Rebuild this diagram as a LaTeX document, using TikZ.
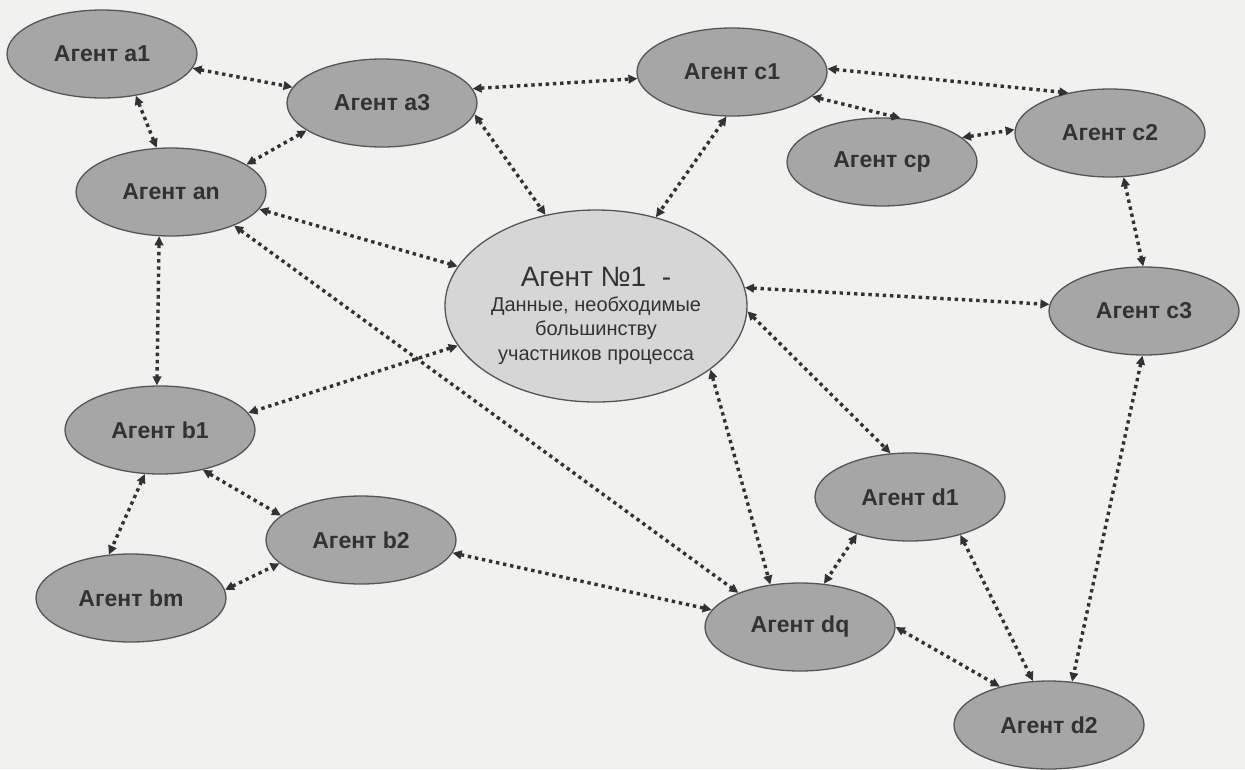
\documentclass[tikz,border=0pt]{standalone}
\usepackage{fontspec}
\setmainfont{Liberation Sans}
\usetikzlibrary{arrows.meta,shapes.geometric}

\definecolor{paper}{RGB}{241,241,240}
\definecolor{agentfill}{RGB}{166,166,166}
\definecolor{corefill}{RGB}{214,214,214}
\definecolor{rim}{RGB}{85,85,85}
\definecolor{ink}{RGB}{50,50,50}

\begin{document}
\begin{tikzpicture}[x=1pt, y=-1pt,
  agent/.style={ellipse, draw=rim, fill=agentfill, line width=1.3pt,
    minimum width=190pt, minimum height=88pt, inner sep=0pt,
    text=ink, font=\fontsize{23}{26}\selectfont\bfseries},
  core/.style={ellipse, draw=rim, fill=corefill, line width=1.3pt,
    minimum width=302pt, minimum height=192pt, inner sep=0pt},
  link/.style={ink, line width=3.4pt, dash pattern=on 3.4pt off 3.8pt,
    {Triangle[length=9pt,width=8.5pt]}-{Triangle[length=9pt,width=8.5pt]}}]

  % ── Sheet ──────────────────────────────────────────────────────────
  \fill[paper] (0,0) rectangle (1245,769);
  \useasboundingbox (0,0) rectangle (1245,769);

  % ── Central agent ──────────────────────────────────────────────────
  \node[core] (main) at (596,306) {};
  \node[align=center, text=ink, font=\fontsize{20}{24.5}\selectfont]
    (maintext) at ([yshift=-10pt]main.center)
    {{\fontsize{28}{27}\selectfont Агент №1\ \ -}\\Данные, необходимые\\большинству\\участников процесса};

  % ── Group a ────────────────────────────────────────────────────────
  \node[agent] (a1) at (102,54)  {Агент a1};
  \node[agent] (a3) at (382,103) {Агент a3};
  \node[agent] (an) at (171,192) {Агент an};

  % ── Group c ────────────────────────────────────────────────────────
  \node[agent] (c1) at (732,72)   {Агент c1};
  \node[agent] (cp) at (882,162)  {Агент cp};
  \node[agent] (c2) at (1110,133) {Агент c2};
  \node[agent] (c3) at (1144,311) {Агент c3};

  % ── Group b ────────────────────────────────────────────────────────
  \node[agent] (b1) at (160,430) {Агент b1};
  \node[agent] (b2) at (361,540) {Агент b2};
  \node[agent] (bm) at (131,598) {Агент bm};

  % ── Group d ────────────────────────────────────────────────────────
  \node[agent] (d1) at (910,497)  {Агент d1};
  \node[agent] (dq) at (800,627)  {Агент dq};
  \node[agent] (d2) at (1049,725) {Агент d2};

  % ── Links (all two-way) ────────────────────────────────────────────
  \draw[link] (a1.-9)    -- (a3.170);
  \draw[link] (a1.-51)   -- (an.108);
  \draw[link] (a3.200)   -- (an.20);
  \draw[link] (a3.9)     -- (c1.184);
  \draw[link] (a3.-7)    -- (main.119);
  \draw[link] (c1.-97)   -- (main.56);
  \draw[link] (c1.2)     -- (c2.136);
  \draw[link] (c1.-17)   -- (cp.67);
  \draw[link] (cp.17)    -- (c2.178);
  \draw[link] (c2.-73)   -- (c3.91);
  \draw[link] (main.7)   -- (c3.176);
  \draw[link] (an.-11)   -- (main.164);
  \draw[link] (an.-105)  -- (b1.94);
  \draw[link] (an.-28)   -- (dq.151);
  \draw[link] (main.-164) -- (b1.11);
  \draw[link] (main.-2)  -- (d1.114);
  \draw[link] (main.-29) -- (dq.125);
  \draw[link] (b1.-43)   -- (b2.163);
  \draw[link] (b1.-109)  -- (bm.117);
  \draw[link] (bm.5)     -- (b2.-164);
  \draw[link] (b2.-8)    -- (dq.169);
  \draw[link] (d1.-145)  -- (dq.61);
  \draw[link] (d1.-37)   -- (d2.110);
  \draw[link] (dq.0)     -- (d2.142);
  \draw[link] (c3.-92)   -- (d2.62);

\end{tikzpicture}
\end{document}
